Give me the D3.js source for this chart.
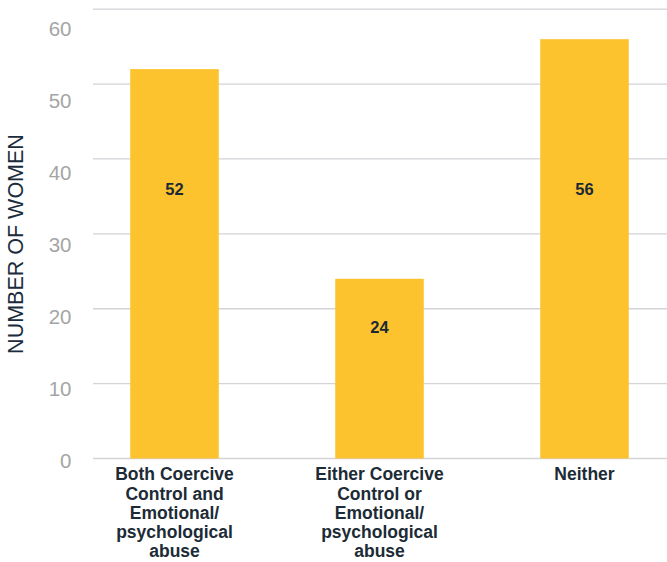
<!DOCTYPE html>
<html>
<head>
<meta charset="utf-8">
<script src="https://cdn.jsdelivr.net/npm/d3@7"></script>
<style>
  html, body { margin: 0; padding: 0; background: #fff; }
  svg { display: block; font-family: "Liberation Sans", Arial, Helvetica, sans-serif; }
</style>
</head>
<body>
<svg id="chart" width="667" height="562"></svg>
<script>
// Categories and counts
const categories = [
  "Both Coercive Control and Emotional/ psychological abuse",
  "Either Coercive Control or Emotional/ psychological abuse",
  "Neither"
];
const counts = [52, 24, 56];
const yTicks = [0, 10, 20, 30, 40, 50, 60];
const yTitle = "NUMBER OF WOMEN";

const svg = d3.select("#chart");

const y = d3.scaleLinear().domain([0, 60]).range([458.5, 9.2]);
// tick labels sit on a slightly tighter scale than the gridlines
const yLabel = d3.scaleLinear().domain([0, 60]).range([460, 28]);
const x = d3.scaleBand()
  .domain(categories)
  .range([72, 687])
  .paddingInner(0.568)
  .paddingOuter(0.284);

// Horizontal gridlines
svg.append("g")
  .selectAll("line")
  .data(yTicks)
  .join("line")
  .attr("x1", 93).attr("x2", 667)
  .attr("y1", d => y(d)).attr("y2", d => y(d))
  .attr("stroke", "#d3d3d8")
  .attr("stroke-width", 1.3);

// Y tick labels
const yAxis = d3.axisLeft(yLabel).tickValues(yTicks).tickSize(0).tickPadding(0);
const gy = svg.append("g").attr("transform", "translate(71.5,0)").call(yAxis);
gy.select(".domain").remove();
gy.selectAll("text")
  .attr("fill", "#a5a5a5")
  .attr("font-size", 20.5)
  .attr("font-family", "'Liberation Sans', Arial, sans-serif")
  .attr("dy", "0.36em");

// Y axis title
svg.append("text")
  .attr("transform", "translate(23,244) rotate(-90)")
  .attr("text-anchor", "middle")
  .attr("fill", "#1b2d3c")
  .attr("font-size", 21.5)
  .text(yTitle);

// Bars
svg.append("g")
  .selectAll("rect")
  .data(categories)
  .join("rect")
  .attr("x", d => x(d))
  .attr("width", x.bandwidth())
  .attr("y", (d, i) => y(counts[i]))
  .attr("height", (d, i) => y(0) - y(counts[i]))
  .attr("fill", "#fcc32e");

// Value labels inside bars
svg.append("g")
  .selectAll("text")
  .data(categories)
  .join("text")
  .attr("x", d => x(d) + x.bandwidth() / 2)
  .attr("y", (d, i) => Math.max(y(36), y(counts[i]) + 48))
  .attr("dy", "0.36em")
  .attr("text-anchor", "middle")
  .attr("font-weight", "bold")
  .attr("font-size", 16.5)
  .attr("fill", "#1b2935")
  .text((d, i) => counts[i]);

// Category labels, wrapped to the band
function wrapWords(text, width, font) {
  const ctx = document.createElement("canvas").getContext("2d");
  ctx.font = font;
  const words = text.split(/\s+/);
  const lines = [];
  let line = "";
  for (const w of words) {
    const test = line ? line + " " + w : w;
    if (line && ctx.measureText(test).width > width) {
      lines.push(line);
      line = w;
    } else {
      line = test;
    }
  }
  if (line) lines.push(line);
  return lines;
}

const labelFont = "bold 17.5px 'Liberation Sans', Arial, sans-serif";
const gx = svg.append("g");
categories.forEach(c => {
  const lines = wrapWords(c, 140, labelFont);
  const t = gx.append("text")
    .attr("text-anchor", "middle")
    .attr("font-weight", "bold")
    .attr("font-size", 17.5)
    .attr("fill", "#1c2b36");
  lines.forEach((ln, k) => {
    t.append("tspan")
      .attr("x", x(c) + x.bandwidth() / 2)
      .attr("y", 474 + k * 19.2)
      .attr("dy", "0.36em")
      .text(ln);
  });
});
</script>
</body>
</html>
